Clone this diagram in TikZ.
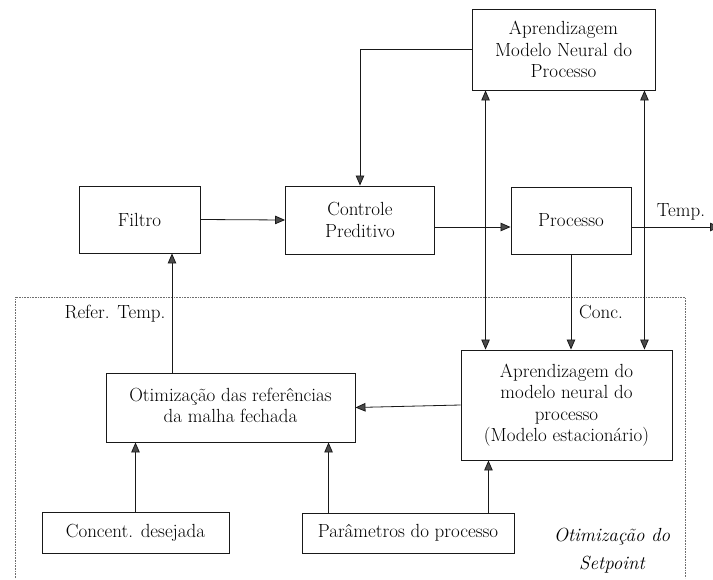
\documentclass[tikz,border=0pt]{standalone}
\usetikzlibrary{arrows.meta,positioning,calc}
\definecolor{linegray}{RGB}{25,25,25}
\definecolor{tipgray}{RGB}{75,75,75}
\definecolor{zonegray}{RGB}{110,110,110}

\begin{document}
\begin{tikzpicture}[x=1pt,y=-1pt,
    every node/.style={font=\fontsize{19}{21.5}\selectfont},
    blk/.style={draw=linegray,line width=0.9pt,align=center,inner sep=0pt},
    tip/.style={-{Triangle[length=10pt,width=8.5pt,fill=tipgray]}},
    flow/.style={draw=linegray,line width=0.8pt,tip},
    both/.style={draw=linegray,line width=0.8pt,
      {Triangle[length=10pt,width=8.5pt,fill=tipgray]}-{Triangle[length=10pt,width=8.5pt,fill=tipgray]}}]
        \useasboundingbox (0,0) rectangle (713,579);
        % zone of the setpoint optimisation
        \draw[zonegray,densely dotted,line width=0.6pt]
          (15,578) -- (15,297) -- (685,297) -- (685,578);
        \node[blk,minimum width=183pt,minimum height=81pt] (mntop) at (563.5,49.5)
          {Aprendizagem\\Modelo Neural do\\Processo};
        \node[blk,minimum width=121pt,minimum height=67pt] (filtro) at (139.5,219.5) {Filtro};
        \node[blk,minimum width=149pt,minimum height=68pt] (ctrl) at (360,220)
          {Controle\\Preditivo};
        \node[blk,minimum width=120pt,minimum height=67pt] (proc) at (571,220.5) {Processo};
        \node[blk,minimum width=211pt,minimum height=110pt] (lmodel) at (566.5,405)
          {Aprendizagem do\\modelo neural do\\processo\\(Modelo estacionário)};
        \node[blk,minimum width=249pt,minimum height=69pt,text depth=4pt] (otim) at (230.5,407.5)
          {Otimização das referências\\da malha fechada};
        \node[blk,minimum width=187pt,minimum height=41pt] (desej) at (135.5,532.5)
          {Concent. desejada};
        \node[blk,minimum width=212pt,minimum height=40pt] (param) at (408,533)
          {Parâmetros do processo};
        \node (temp) at (681,212) {Temp.};
        \node (conc) at (601,312) {Conc.};
        \node (refer) at (115,314) {Refer. Temp.};
        \node[font=\fontsize{19}{28}\selectfont\itshape,align=center] (zone) at (612,551)
          {Otimização do\\Setpoint};
        \coordinate (tempout) at (720,227);
        \coordinate (ua) at ([xshift=14pt]mntop.south west);
        \coordinate (ub) at ([xshift=-11pt]mntop.south east);
        \coordinate (uc) at ([xshift=-58.5pt]otim.north);
        \coordinate (ud) at ([xshift=27pt]param.north west);
        \coordinate (ue) at ([xshift=-26pt]param.north east);
        % upper loop
        \draw[flow] (filtro.east) -- (ctrl.west);
        \draw[flow] ([yshift=-7pt]ctrl.east) -- ([yshift=-6.5pt]proc.west);
        \draw[flow] ([yshift=-6.5pt]proc.east) -- (tempout);
        \draw[flow] (mntop.west) -| (ctrl.north);
        \foreach \u in {ua,ub}
          \draw[both] (\u) -- (\u |- lmodel.north);
        \draw[flow] (proc.south) -- (proc.south |- lmodel.north);
        % lower part
        \draw[flow] (lmodel.west) -- (otim.east);
        \draw[flow] (uc) -- (uc |- filtro.south);
        \draw[flow] (desej.north) -- (desej.north |- otim.south);
        \draw[flow] (ud) -- (ud |- otim.south);
        \draw[flow] (ue) -- (ue |- lmodel.south);
      \end{tikzpicture}
\end{document}
